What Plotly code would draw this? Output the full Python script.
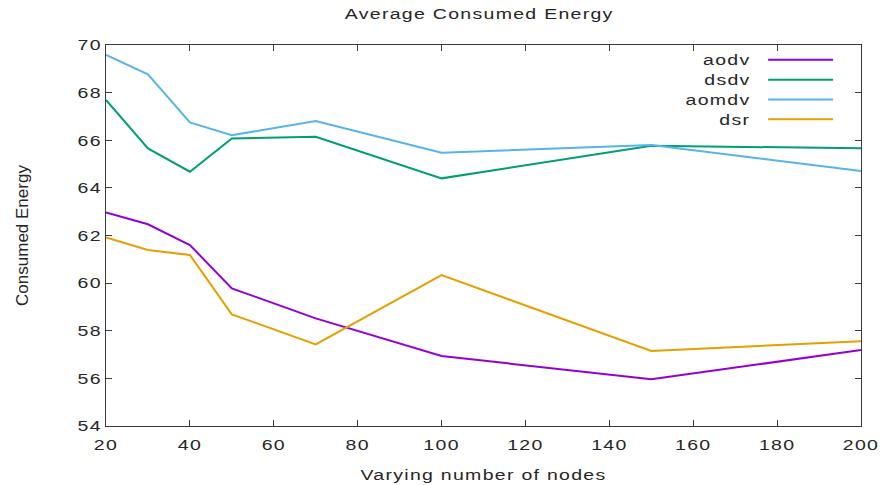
import plotly.graph_objects as go

nodes = [20, 30, 40, 50, 70, 100, 150, 200]
aodv = [62.97, 62.47, 61.60, 59.78, 58.52, 56.94, 55.96, 57.19]
dsdv = [67.69, 65.66, 64.68, 66.07, 66.15, 64.40, 65.77, 65.66]
aomdv = [69.58, 68.77, 66.75, 66.21, 66.81, 65.48, 65.80, 64.71]
dsr = [61.92, 61.39, 61.18, 58.69, 57.43, 60.34, 57.15, 57.56]

names = ["aodv", "dsdv", "aomdv", "dsr"]
series = [aodv, dsdv, aomdv, dsr]
colors = ["#9400d3", "#009e73", "#56b4e9", "#e69f00"]

FONT = "Liberation Sans, Arial, sans-serif"
TXT = "#262626"

fig = go.Figure()
for n, s, c in zip(names, series, colors):
    fig.add_trace(go.Scatter(x=nodes, y=s, mode="lines", name=n,
                             line=dict(color=c, width=2), showlegend=False))

# gnuplot-style key: right-aligned text, sample line on the right
for i, (n, c) in enumerate(zip(names, colors)):
    yp = 0.961 - i * 0.052
    fig.add_annotation(x=0.854, y=yp, xref="paper", yref="paper", text=n,
                       showarrow=False, xanchor="right", yanchor="middle",
                       font=dict(family=FONT, size=15, color=TXT))
    fig.add_shape(type="line", xref="paper", yref="paper",
                  x0=0.877, x1=0.963, y0=yp, y1=yp,
                  line=dict(color=c, width=2))

axis_common = dict(showline=True, linecolor="#3a3a3a", linewidth=1.2, mirror="allticks",
                   ticks="inside", ticklen=6, tickcolor="#3a3a3a", tickwidth=1,
                   showgrid=False, zeroline=False, automargin=False,
                   tickfont=dict(family=FONT, size=15, color=TXT))

fig.update_xaxes(range=[20, 200], tick0=20, dtick=20, ticklabelstandoff=5,
                 title=dict(text="Varying number of nodes", standoff=17,
                            font=dict(family=FONT, size=15, color=TXT)),
                 **axis_common)
fig.update_yaxes(range=[54, 70], tick0=54, dtick=2,
                 title=dict(text="Consumed Energy", standoff=52,
                            font=dict(family=FONT, size=17, color=TXT)),
                 **axis_common)

fig.update_layout(
    width=881, height=485,
    margin=dict(l=106, r=20, t=45, b=59),
    paper_bgcolor="white", plot_bgcolor="white",
    title=dict(text="Average Consumed Energy", x=0.544, xanchor="center", y=0.972,
               yanchor="middle", font=dict(family=FONT, size=15, color=TXT)),
)

# widen the horizontal lettering like the gnuplot raster (text stays real SVG text)
post = """
var gd = document.getElementById('{plot_id}');
var S = 1.3;
gd.querySelectorAll('text').forEach(function(t){
  if (t.dataset.stretched) return;
  var tr = t.getAttribute('transform') || '';
  if (tr.indexOf('rotate') >= 0) { t.dataset.stretched = '1'; return; }
  t.style.letterSpacing = '1px';
  var bb = t.getBBox();
  var ax;
  if (t.closest('.annotation')) { ax = bb.x + bb.width; }
  else {
    var a = t.getAttribute('text-anchor') || 'start';
    ax = (a == 'middle') ? bb.x + bb.width / 2 : (a == 'end') ? bb.x + bb.width : bb.x;
  }
  t.setAttribute('transform', tr + ' translate(' + ax + ',0) scale(' + S + ',1) translate(' + (-ax) + ',0)');
  t.dataset.stretched = '1';
});
"""

fig.write_html("out.html", post_script=post)
